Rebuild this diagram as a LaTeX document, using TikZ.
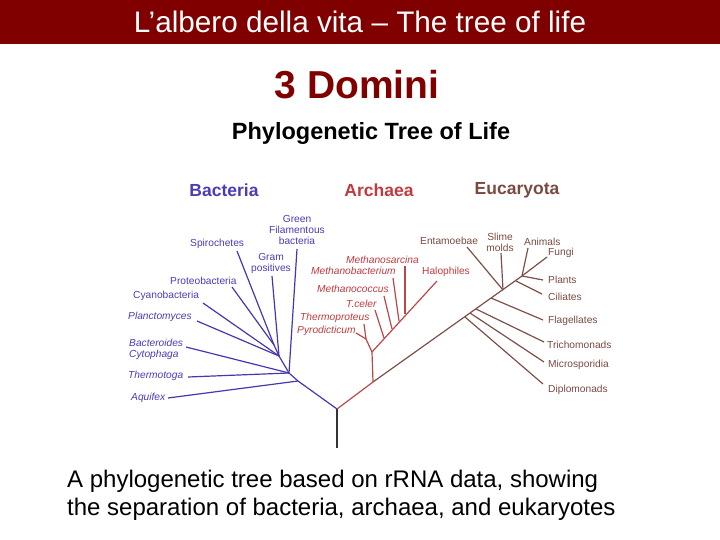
\documentclass[tikz,border=0pt]{standalone}
\usepackage{fontspec}
\setmainfont{Liberation Sans}
\definecolor{barred}{HTML}{800000}
\definecolor{bact}{HTML}{4A3CB8}
\definecolor{bactline}{HTML}{4438B0}
\definecolor{arch}{HTML}{C03A3E}
\definecolor{archline}{HTML}{B8484A}
\definecolor{euk}{HTML}{7A4A40}
\definecolor{eukline}{HTML}{7C5048}
\begin{document}
\begin{tikzpicture}[x=1pt,y=-1pt,
  lab/.style={inner sep=0pt,font=\fontsize{10.2}{11}\selectfont,anchor=west},
  ilab/.style={lab,font=\fontsize{10.2}{11}\selectfont\itshape},
  head/.style={inner sep=0pt,font=\fontsize{17.5}{20}\selectfont\bfseries},
  bl/.style={draw=bactline,line width=1.2pt},
  rl/.style={draw=archline,line width=1.2pt},
  el/.style={draw=eukline,line width=1.2pt}]
\useasboundingbox (0,0) rectangle (720,540);
\fill[barred] (0,0) rectangle (720,44);
\node[text=white,font=\fontsize{29.7}{32}\selectfont] (title) at (360,22) {L’albero della vita – The tree of life};
\node[text=barred,font=\fontsize{39}{42}\selectfont\bfseries] (dom) at (357,85) {3 Domini};
\node[font=\fontsize{23.5}{26}\selectfont\bfseries] (phy) at (371,133) {Phylogenetic Tree of Life};
\node[head,text=bact] (hb) at (224,190) {Bacteria};
\node[head,text=arch] (ha) at (379,190) {Archaea};
\node[head,text=euk] (he) at (517,190) {Eucaryota};
% tree coordinates
\coordinate (root) at (337,409);
\coordinate (base) at (337,448);
\coordinate (b1) at (298,381);
\coordinate (b2) at (289,373);
\coordinate (b3) at (279,356);
\coordinate (b4) at (274,345);
\coordinate (tAqu) at (168,398);
\coordinate (tThe) at (188,377);
\coordinate (tBac) at (186,347);
\coordinate (tPla) at (197,321);
\coordinate (tCya) at (203,303);
\coordinate (tGra) at (272,276);
\coordinate (tPro) at (232,287);
\coordinate (tSpi) at (237,251);
\coordinate (tGre) at (297,249);
\coordinate (a0) at (373,382);
\coordinate (aF) at (372,352);
\coordinate (aL) at (366,339);
\coordinate (tTpr) at (364,324);
\coordinate (tPyr) at (356,333);
\coordinate (jTce) at (384,338);
\coordinate (jMco) at (392,329);
\coordinate (jMba) at (399,321);
\coordinate (jMsa) at (405,314);
\coordinate (tTce) at (375,310);
\coordinate (tMco) at (384,296);
\coordinate (tMba) at (393,278);
\coordinate (tMsa) at (405,266);
\coordinate (tHal) at (437,281);
\coordinate (eH) at (522,276);
\coordinate (jDip) at (465,317);
\coordinate (jMic) at (470,313);
\coordinate (jTri) at (476,309);
\coordinate (jFla) at (491,298);
\coordinate (jEnt) at (503,290);
\coordinate (jCil) at (516,281);
\coordinate (tDip) at (543,384);
\coordinate (tMic) at (544,362);
\coordinate (tTri) at (544,342);
\coordinate (tFla) at (543,320);
\coordinate (tEnt) at (467,247);
\coordinate (tSli) at (501,253);
\coordinate (tCil) at (542,294);
\coordinate (tPlt) at (543,280);
\coordinate (tAni) at (528,248);
\coordinate (tFun) at (547,257);
% lines
\draw[line width=1.2pt,black!80] (root) -- (base);
\draw[bl] (root) -- (b1) -- (b2) -- (b3) -- (b4);
\draw[bl] (b1) -- (tAqu);
\draw[bl] (b2) -- (tThe);
\draw[bl] (b2) -- (tBac);
\draw[bl] (b2) -- (tGre);
\draw[bl] (b3) -- (tPla);
\draw[bl] (b3) -- (tCya);
\draw[bl] (b3) -- (tGra);
\draw[bl] (b4) -- (tPro);
\draw[bl] (b4) -- (tSpi);
\draw[rl] (root) -- (a0);
\draw[rl] (a0) -- (aF) -- (aL) -- (tTpr);
\draw[rl] (aL) -- (tPyr);
\draw[rl] (aF) -- (tHal);
\draw[rl] (jTce) -- (tTce);
\draw[rl] (jMco) -- (tMco);
\draw[rl] (jMba) -- (tMba);
\draw[rl] (jMsa) -- (tMsa);
\draw[el] (a0) -- (eH) -- (tFun);
\draw[el] (jDip) -- (tDip);
\draw[el] (jMic) -- (tMic);
\draw[el] (jTri) -- (tTri);
\draw[el] (jFla) -- (tFla);
\draw[el] (jEnt) -- (tEnt);
\draw[el] (jEnt) -- (tSli);
\draw[el] (jCil) -- (tCil);
\draw[el] (eH) -- (tPlt);
\draw[el] (eH) -- (tAni);
% bacteria labels
\node[lab,text=bact,anchor=center,align=center] (lGre) at (297,230) {Green\\Filamentous\\bacteria};
\node[lab,text=bact] (lSpi) at (190,244) {Spirochetes};
\node[lab,text=bact,anchor=center,align=center] (lGra) at (271,263) {Gram\\positives};
\node[lab,text=bact] (lPro) at (170,281) {Proteobacteria};
\node[lab,text=bact] (lCya) at (133,296) {Cyanobacteria};
\node[ilab,text=bact] (lPla) at (128,317) {Planctomyces};
\node[ilab,text=bact,align=left] (lBac) at (129,349) {Bacteroides\\Cytophaga};
\node[ilab,text=bact] (lThe) at (128,376) {Thermotoga};
\node[ilab,text=bact] (lAqu) at (131,398) {Aquifex};
% archaea labels
\node[ilab,text=arch] (lMsa) at (346,260) {Methanosarcina};
\node[ilab,text=arch] (lMba) at (311,271) {Methanobacterium};
\node[lab,text=arch] (lHal) at (422,272) {Halophiles};
\node[ilab,text=arch] (lMco) at (317,289) {Methanococcus};
\node[ilab,text=arch] (lTce) at (346,304) {T.celer};
\node[ilab,text=arch] (lTpr) at (300,318) {Thermoproteus};
\node[ilab,text=arch] (lPyr) at (297,331) {Pyrodicticum};
% eukaryote labels
\node[lab,text=euk] (lEnt) at (420,241) {Entamoebae};
\node[lab,text=euk,anchor=center,align=center] (lSli) at (500,242) {Slime\\molds};
\node[lab,text=euk] (lAni) at (524,242) {Animals};
\node[lab,text=euk] (lFun) at (548,253) {Fungi};
\node[lab,text=euk] (lPlt) at (548,280) {Plants};
\node[lab,text=euk] (lCil) at (548,297) {Ciliates};
\node[lab,text=euk] (lFla) at (548,321) {Flagellates};
\node[lab,text=euk] (lTri) at (547,345) {Trichomonads};
\node[lab,text=euk] (lMic) at (548,365) {Microsporidia};
\node[lab,text=euk] (lDip) at (548,390) {Diplomonads};
% caption
\node[anchor=north west,inner sep=0pt,align=left,font=\fontsize{24}{28}\selectfont] (cap) at (67,470) {A phylogenetic tree based on rRNA data, showing\\the separation of bacteria, archaea, and eukaryotes};
\end{tikzpicture}
\end{document}
